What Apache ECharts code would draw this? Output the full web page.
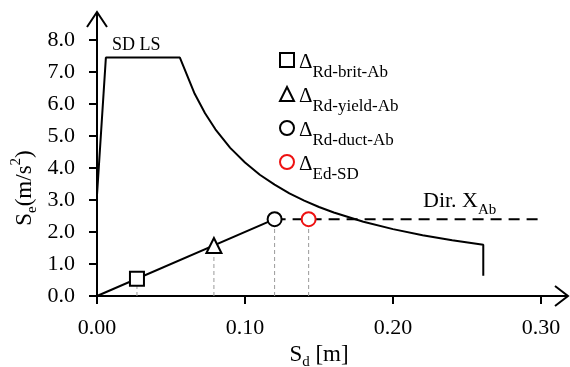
<!DOCTYPE html>
<html>
<head>
<meta charset="utf-8">
<script src="https://cdn.jsdelivr.net/npm/echarts@6/dist/echarts.min.js"></script>
<style>
  html, body { margin: 0; padding: 0; background: #fff; }
  #chart { width: 570px; height: 367px; }
</style>
</head>
<body>
<div id="chart"></div>
<script>
const FONT = 'Liberation Serif';

// Elastic demand spectrum in ADRS format (SD limit state)
const spectrumSd = [0, 0.006, 0.056, 0.066, 0.073, 0.080, 0.090, 0.100, 0.110, 0.120, 0.130, 0.140, 0.150, 0.160, 0.180, 0.200, 0.220, 0.240, 0.261, 0.261];
const spectrumSa = [3.15, 7.45, 7.45, 6.32, 5.71, 5.21, 4.63, 4.17, 3.79, 3.48, 3.21, 2.98, 2.78, 2.61, 2.32, 2.09, 1.90, 1.74, 1.60, 0.63];

// Bilinear capacity curve, direction X
const capacitySd = [0, 0.120];
const capacitySa = [0, 2.40];
const plasticSd = [0.120, 0.298];
const plasticSa = [2.40, 2.40];

// Displacement capacities and demand on the capacity curve
const checkNames = ['Rd-brit-Ab', 'Rd-yield-Ab', 'Rd-duct-Ab', 'Ed-SD'];
const checkSd = [0.027, 0.079, 0.120, 0.143];
const checkSa = [0.54, 1.58, 2.40, 2.40];
const checkSymbols = ['rect', 'triangle', 'circle', 'circle'];
const checkColors = ['#000000', '#000000', '#000000', '#ee1111'];

// Axis ranges and tick steps
const xRange = [0, 0.30], xStep = 0.10;
const yRange = [0, 8.0], yStep = 1.0;

const zip = (a, b) => a.map((v, i) => [v, b[i]]);

const chart = echarts.init(document.getElementById('chart'), null, { renderer: 'canvas' });

const series = [
  {
    name: 'spectrum', type: 'line', data: zip(spectrumSd, spectrumSa),
    showSymbol: false, silent: true, z: 3,
    lineStyle: { color: '#000', width: 2 }
  },
  {
    name: 'capacity', type: 'line', data: zip(capacitySd, capacitySa),
    showSymbol: false, silent: true, z: 3,
    lineStyle: { color: '#000', width: 2 }
  },
  {
    name: 'plastic', type: 'line', data: zip(plasticSd, plasticSa),
    showSymbol: false, silent: true, z: 3,
    lineStyle: { color: '#000', width: 2, type: [11, 7] }
  }
];

// Grey dashed drop lines from each check point to the Sd axis
checkSd.forEach((sd, i) => {
  series.push({
    name: 'drop' + i, type: 'line', data: [[sd, 0], [sd, checkSa[i]]],
    showSymbol: false, silent: true, z: 2,
    lineStyle: { color: '#9a9a9a', width: 1, type: [4, 3] }
  });
});

checkNames.forEach((n, i) => {
  series.push({
    name: n, type: 'scatter', data: [[checkSd[i], checkSa[i]]],
    symbol: checkSymbols[i], symbolSize: checkSymbols[i] === 'triangle' ? 15 : 14, z: 6,
    itemStyle: { color: '#fff', borderColor: checkColors[i], borderWidth: 2, opacity: 1 }
  });
});

const axisCommon = {
  axisLine: { show: true, lineStyle: { color: '#000', width: 2 } },
  axisTick: { show: true, inside: false, length: 8, lineStyle: { color: '#000', width: 2 } },
  splitLine: { show: false },
  axisLabel: { color: '#000', fontFamily: FONT, fontSize: 22 }
};

const nameRich = {
  b: { fontFamily: FONT, fontSize: 23, color: '#000', lineHeight: 26, verticalAlign: 'top', padding: [4, 0, 0, 0] },
  s: { fontFamily: FONT, fontSize: 15, color: '#000', lineHeight: 15, verticalAlign: 'top', padding: [16, 0, 0, 0] },
  p: { fontFamily: FONT, fontSize: 15, color: '#000', lineHeight: 15, verticalAlign: 'top', padding: [0, 0, 0, 0] }
};

chart.setOption({
  animation: false,
  backgroundColor: '#fff',
  grid: { left: 97, right: 29, top: 40, bottom: 71, containLabel: false, outerBoundsMode: 'none' },
  xAxis: Object.assign({}, axisCommon, {
    type: 'value', min: xRange[0], max: xRange[1], interval: xStep,
    axisLabel: Object.assign({}, axisCommon.axisLabel, { margin: 21, formatter: v => v.toFixed(2) }),
    name: '{b|S}{s|d}{b| [m]}', nameLocation: 'middle', nameGap: 43, nameMoveOverlap: false,
    nameTextStyle: { rich: nameRich }
  }),
  yAxis: Object.assign({}, axisCommon, {
    type: 'value', min: yRange[0], max: yRange[1], interval: yStep,
    axisLabel: Object.assign({}, axisCommon.axisLabel, { margin: 22, formatter: v => v.toFixed(1) }),
    name: '{b|S}{s|e}{b|(m/s}{p|2}{b|)}', nameLocation: 'middle', nameGap: 62, nameRotate: 90, nameMoveOverlap: false,
    nameTextStyle: { rich: nameRich, padding: [0, 40, 0, 0] }
  }),
  legend: {
    data: checkNames, orient: 'vertical', left: 279, top: 49, padding: 0,
    itemWidth: 14, itemHeight: 14, itemGap: 2, selectedMode: false,
    formatter: n => '{d|\u0394}{s|' + n + '}',
    textStyle: {
      rich: {
        d: { fontFamily: FONT, fontSize: 21, color: '#000', lineHeight: 22, verticalAlign: 'top', padding: [3, 0, 0, 0] },
        s: { fontFamily: FONT, fontSize: 17, color: '#000', lineHeight: 14, verticalAlign: 'top', padding: [15, 0, 0, 0] }
      }
    }
  },
  series: series
});

// Axis arrow heads and annotations, placed from the axis end points
const xEnd = chart.convertToPixel({ gridIndex: 0 }, [xRange[1], 0]);
const yEnd = chart.convertToPixel({ gridIndex: 0 }, [0, yRange[1]]);
const arrowStyle = { stroke: '#000', lineWidth: 2, fill: null };
const xTip = [xEnd[0] + 27, xEnd[1]];
const yTip = [yEnd[0], yEnd[1] - 28];

chart.setOption({
  graphic: [
    { type: 'line', shape: { x1: xEnd[0], y1: xEnd[1], x2: xTip[0], y2: xTip[1] }, style: arrowStyle, silent: true },
    { type: 'polyline', shape: { points: [[xTip[0] - 13, xTip[1] - 10], xTip, [xTip[0] - 13, xTip[1] + 10]] }, style: arrowStyle, silent: true },
    { type: 'line', shape: { x1: yEnd[0], y1: yEnd[1], x2: yTip[0], y2: yTip[1] }, style: arrowStyle, silent: true },
    { type: 'polyline', shape: { points: [[yTip[0] - 10, yTip[1] + 15], yTip, [yTip[0] + 10, yTip[1] + 15]] }, style: arrowStyle, silent: true },
    {
      type: 'text', left: 112, top: 36, silent: true,
      style: { text: 'SD LS', fontFamily: FONT, fontSize: 18, fill: '#000' }
    },
    {
      type: 'text', left: 423, top: 190, silent: true,
      style: {
        text: '{b|Dir. X}{s|Ab}',
        rich: {
          b: { fontFamily: FONT, fontSize: 22, fill: '#000', lineHeight: 26, verticalAlign: 'top', padding: [0, 0, 0, 0] },
          s: { fontFamily: FONT, fontSize: 15, fill: '#000', lineHeight: 15, verticalAlign: 'top', padding: [13, 0, 0, 0] }
        }
      }
    }
  ]
});
</script>
</body>
</html>
